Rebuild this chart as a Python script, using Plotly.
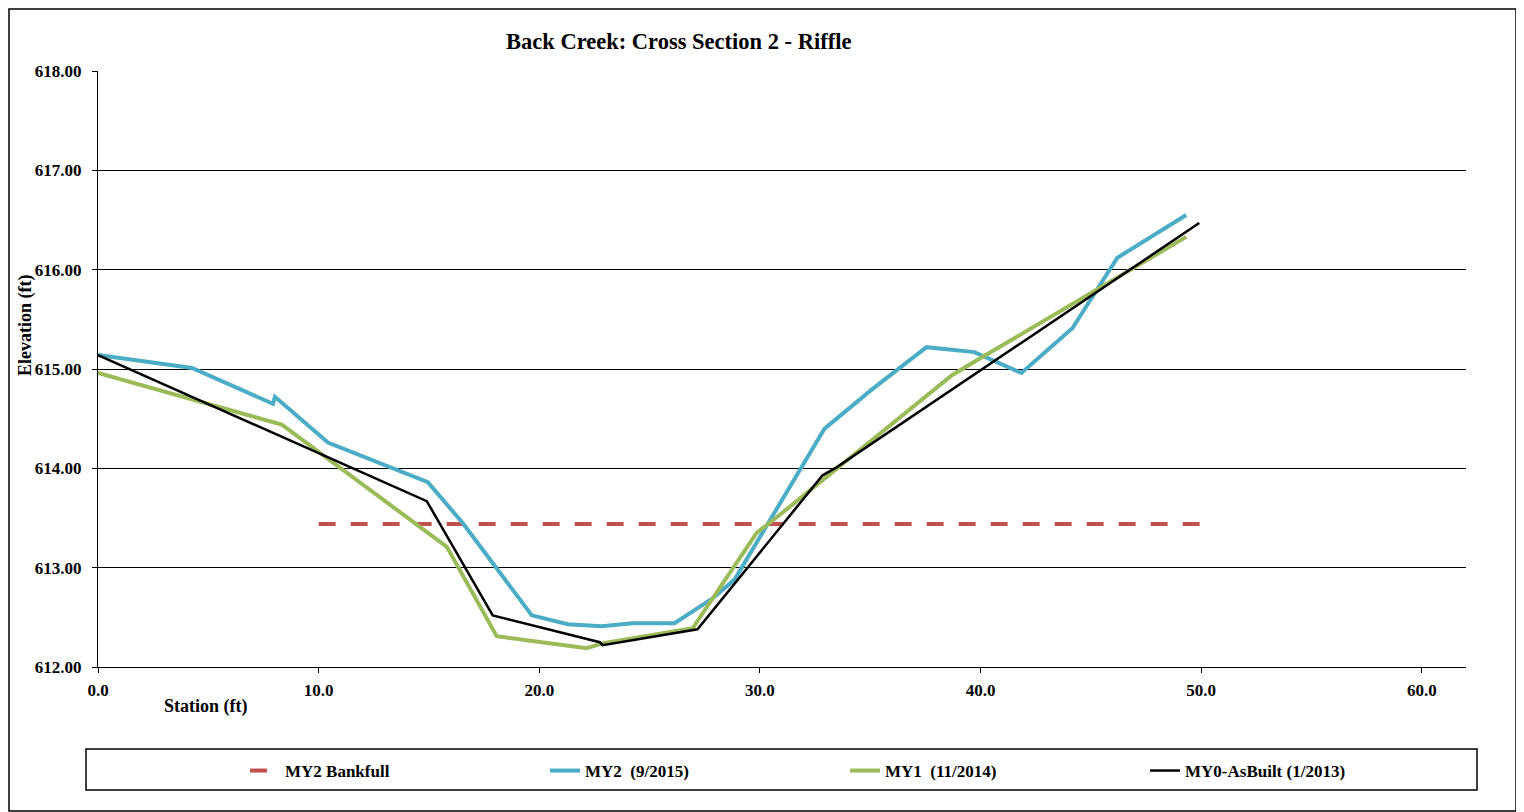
import plotly.graph_objects as go

# MY2 (9/2015)
my2_x = [0.0, 4.26, 7.93, 8.02, 10.42, 14.95, 16.53, 19.66, 21.29, 22.83, 24.23, 26.13, 27.85, 28.85, 32.93, 35.05, 37.55, 39.72, 41.85, 44.16, 46.20, 49.32]
my2_y = [615.14, 615.01, 614.65, 614.72, 614.26, 613.86, 613.45, 612.52, 612.43, 612.41, 612.44, 612.44, 612.69, 612.88, 614.40, 614.79, 615.22, 615.17, 614.96, 615.41, 616.12, 616.55]

# MY1 (11/2014)
my1_x = [0.0, 8.33, 15.81, 18.07, 22.15, 22.9, 26.95, 29.85, 30.89, 38.72, 40.08, 49.32]
my1_y = [614.96, 614.44, 613.21, 612.31, 612.19, 612.24, 612.39, 613.35, 613.53, 614.94, 615.12, 616.33]

# MY0-AsBuilt (1/2013)
my0_x = [0.0, 14.90, 17.89, 22.74, 22.87, 27.17, 32.84, 33.47, 49.91]
my0_y = [615.14, 613.67, 612.52, 612.25, 612.22, 612.38, 613.93, 614.01, 616.47]

# MY2 Bankfull
bkf_x = [10.0, 50.0]
bkf_y = [613.44, 613.44]

x_ticks = [0, 10, 20, 30, 40, 50, 60]
x_ticklabels = ["0.0", "10.0", "20.0", "30.0", "40.0", "50.0", "60.0"]
y_ticks = [612, 613, 614, 615, 616, 617, 618]
y_ticklabels = ["612.00", "613.00", "614.00", "615.00", "616.00", "617.00", "618.00"]

SERIF = "Liberation Serif"

fig = go.Figure()
fig.add_trace(go.Scatter(x=bkf_x, y=bkf_y, mode="lines", name="MY2 Bankfull",
                         line=dict(color="#C0504D", width=4, dash="17px,15px")))
fig.add_trace(go.Scatter(x=my2_x, y=my2_y, mode="lines", name="MY2  (9/2015)",
                         line=dict(color="#4BACC6", width=4)))
fig.add_trace(go.Scatter(x=my1_x, y=my1_y, mode="lines", name="MY1  (11/2014)",
                         line=dict(color="#9BBB59", width=4)))
fig.add_trace(go.Scatter(x=my0_x, y=my0_y, mode="lines", name="MY0-AsBuilt (1/2013)",
                         line=dict(color="#000000", width=2.5)))

# page coordinates (body has an 8px margin)
OFF = 8
L, R, T, B = 98, 1466, 71, 667
W, H = 1524 - OFF, 812 - OFF
pw, ph = R - L, B - T

def px(x):
    return (x - L) / pw

def py(y):
    return (B - y) / ph

fig.update_layout(
    width=W, height=H,
    margin=dict(l=L - OFF, r=W - (R - OFF), t=T - OFF, b=H - (B - OFF)),
    paper_bgcolor="white", plot_bgcolor="white",
    showlegend=True,
    legend=dict(orientation="h", x=px(245), y=py(753), xanchor="left", yanchor="top",
                entrywidth=255, entrywidthmode="pixels",
                font=dict(family=SERIF, size=17, color="black", weight="bold"),
                bgcolor="rgba(0,0,0,0)"),
    xaxis=dict(range=[0, 62], tickvals=x_ticks, ticktext=x_ticklabels,
               showgrid=False, zeroline=False, showline=True, linecolor="black", linewidth=1,
               ticks="outside", ticklen=5, tickcolor="black", ticklabelstandoff=3,
               tickfont=dict(family=SERIF, size=17, color="black", weight="bold")),
    yaxis=dict(range=[612, 618], tickvals=y_ticks, ticktext=y_ticklabels,
               showgrid=True, gridcolor="black", gridwidth=1, zeroline=False,
               showline=True, linecolor="black", linewidth=1,
               ticks="outside", ticklen=5, tickcolor="black", ticklabelstandoff=7,
               tickfont=dict(family=SERIF, size=17, color="black", weight="bold")),
    annotations=[
        dict(text="Back Creek: Cross Section 2 - Riffle", xref="paper", yref="paper",
             x=px(678), y=py(42), xanchor="center", yanchor="middle", showarrow=False,
             font=dict(family=SERIF, size=22.5, color="black", weight="bold")),
        dict(text="Elevation (ft)", xref="paper", yref="paper", textangle=-90,
             x=px(25), y=py(326), xanchor="center", yanchor="middle", showarrow=False,
             font=dict(family=SERIF, size=18, color="black", weight="bold")),
        dict(text="Station (ft)", xref="paper", yref="paper",
             x=px(206), y=py(707), xanchor="center", yanchor="middle", showarrow=False,
             font=dict(family=SERIF, size=18, color="black", weight="bold")),
    ],
    shapes=[
        dict(type="rect", xref="paper", yref="paper", x0=px(9), x1=px(1516), y0=py(811), y1=py(9),
             line=dict(color="black", width=1.5), layer="below"),
        dict(type="rect", xref="paper", yref="paper", x0=px(86), x1=px(1477), y0=py(790), y1=py(749),
             line=dict(color="black", width=1.5)),
    ],
)

fig.write_html("out.html")
